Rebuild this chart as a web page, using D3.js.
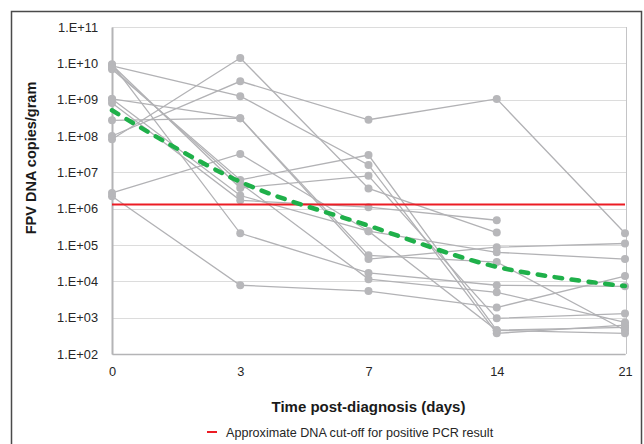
<!DOCTYPE html>
<html>
<head>
<meta charset="utf-8">
<script src="https://cdn.jsdelivr.net/npm/d3@7"></script>
<style>
  body { margin: 0; background: #fff; }
  svg { font-family: "Liberation Sans", Arial, sans-serif; }
</style>
</head>
<body>
<svg width="644" height="444"></svg>
<script>
// days after diagnosis (categorical x)
const days = ["0", "3", "7", "14", "21"];

// individual cats, copies/gram at each day (null = no sample)
const catA = [2.2e6, 7.8e3, 5.4e3, 1.9e3, 1.4e4];
const catB = [2.7e6, 3.2e7, 2.4e5, 6.3e4, 4.1e4];
const catC = [1.0e8, 3.2e9, 2.8e8, 1.05e9, 2.1e5];
const catD = [8.1e7, 1.4e10, 3.6e6, 2.2e5, null];
const catE = [8.5e9, 1.25e9, 1.6e7, 3.7e2, 6.2e2];
const catF = [1.05e9, 3.1e8, 4.1e4, 8.7e4, 1.1e5];
const catG = [2.7e8, 3.1e8, 5.2e4, 3.4e4, 4.5e2];
const catH = [9.5e9, 2.1e5, 1.7e4, 7.8e3, 7.3e3];
const catI = [6.9e9, 6.2e6, 3.0e7, 4.5e2, 5.4e2];
const catJ = [9.0e9, 3.7e6, 8.0e6, 9.6e2, 1.3e3];
const catK = [8.1e8, 1.7e6, 1.1e6, 4.8e5, null];
const catL = [7.5e9, 5.0e6, 1.15e4, 5.0e3, 7.4e2];
const catM = [1.05e9, 2.3e6, 2.4e5, 4.5e2, 3.7e2];
const cats = [catA, catB, catC, catD, catE, catF, catG, catH, catI, catJ, catK, catL, catM];

// mean line (green dashed)
const meanSeries = [5.1e8, 5.5e6, 3.4e5, 2.5e4, 7.4e3];

// approximate positive PCR cut-off
const cutoff = 1.3e6;

const yTicks = [1e2, 1e3, 1e4, 1e5, 1e6, 1e7, 1e8, 1e9, 1e10, 1e11];
const legendLabel = "Approximate DNA cut-off for positive PCR result";

const svg = d3.select("svg");
const pLeft = 112, pRight = 625, pTop = 27, pBottom = 354;

const x = d3.scalePoint().domain(days).range([pLeft, pRight]);
const y = d3.scaleLog().domain([1e2, 1e11]).range([pBottom, pTop]);

// outer frame
svg.append("rect")
    .attr("x", 11.5).attr("y", 11.5)
    .attr("width", 630).attr("height", 460)
    .attr("fill", "none")
    .attr("stroke", "#4a4a4a")
    .attr("stroke-width", 1.5);

// gridlines
svg.append("g")
    .selectAll("line")
    .data(yTicks)
    .enter().append("line")
    .attr("x1", pLeft).attr("x2", pRight + 1)
    .attr("y1", d => Math.round(y(d)) + 0.5)
    .attr("y2", d => Math.round(y(d)) + 0.5)
    .attr("stroke", "#dcdcdc")
    .attr("stroke-width", 1);

// plot border right
svg.append("line")
    .attr("x1", pRight + 1.5).attr("x2", pRight + 1.5)
    .attr("y1", pTop).attr("y2", pBottom)
    .attr("stroke", "#c4c4c6");

// y axis
const yAxis = svg.append("g")
    .attr("transform", `translate(${pLeft},0)`)
    .call(d3.axisLeft(y)
        .tickValues(yTicks)
        .tickSize(0)
        .tickPadding(14)
        .tickFormat(d => "1.E+" + String(Math.round(Math.log10(d))).padStart(2, "0")));
yAxis.select(".domain").attr("stroke", "#b4b4b6").attr("stroke-width", 2);
yAxis.selectAll("text").attr("font-size", 12.8).attr("fill", "#262626")
    .attr("font-family", "Liberation Sans, Arial, sans-serif");

// x axis
const xAxis = svg.append("g")
    .attr("transform", `translate(0,${pBottom})`)
    .call(d3.axisBottom(x).tickSize(0).tickPadding(13));
xAxis.select(".domain").attr("stroke", "#b4b4b6").attr("stroke-width", 1.5);
xAxis.selectAll("text").attr("font-size", 12.8).attr("fill", "#262626")
    .attr("font-family", "Liberation Sans, Arial, sans-serif");

// individual cats
const line = d3.line()
    .defined(d => d.v != null)
    .x(d => x(d.day))
    .y(d => y(d.v));

const catRows = cats.map(s => s.map((v, i) => ({day: days[i], v: v})));

svg.append("g")
    .selectAll("path")
    .data(catRows)
    .enter().append("path")
    .attr("d", line)
    .attr("fill", "none")
    .attr("stroke", "#b2b2b5")
    .attr("stroke-width", 1.3);

svg.append("g")
    .selectAll("circle")
    .data(catRows.flat().filter(d => d.v != null))
    .enter().append("circle")
    .attr("cx", d => x(d.day))
    .attr("cy", d => y(d.v))
    .attr("r", 4)
    .attr("fill", "#b7b7ba");

// cut-off line
svg.append("line")
    .attr("x1", pLeft).attr("x2", pRight)
    .attr("y1", y(cutoff)).attr("y2", y(cutoff))
    .attr("stroke", "#ec1c24")
    .attr("stroke-width", 2);

// mean
svg.append("path")
    .datum(meanSeries.map((v, i) => ({day: days[i], v: v})))
    .attr("d", line.curve(d3.curveCatmullRom.alpha(0.5)))
    .attr("fill", "none")
    .attr("stroke", "#1fb04a")
    .attr("stroke-width", 4.5)
    .attr("stroke-linecap", "round")
    .attr("stroke-dasharray", "7.5,9.5");

// axis titles
svg.append("text")
    .attr("x", (pLeft + pRight) / 2)
    .attr("y", 412)
    .attr("text-anchor", "middle")
    .style("font-size", "15px")
    .style("font-weight", "bold")
    .style("fill", "#1a1a1a")
    .text("Time post-diagnosis (days)");

svg.append("text")
    .attr("transform", "translate(36,158) rotate(-90)")
    .attr("text-anchor", "middle")
    .style("font-size", "14.5px")
    .style("font-weight", "bold")
    .style("fill", "#1a1a1a")
    .text("FPV DNA copies/gram");

// legend
svg.append("line")
    .attr("x1", 207).attr("x2", 217)
    .attr("y1", 432).attr("y2", 432)
    .attr("stroke", "#ec1c24")
    .attr("stroke-width", 2);
svg.append("text")
    .attr("x", 226)
    .attr("y", 436.5)
    .style("font-size", "12.6px")
    .style("fill", "#262626")
    .text(legendLabel);
</script>
</body>
</html>
